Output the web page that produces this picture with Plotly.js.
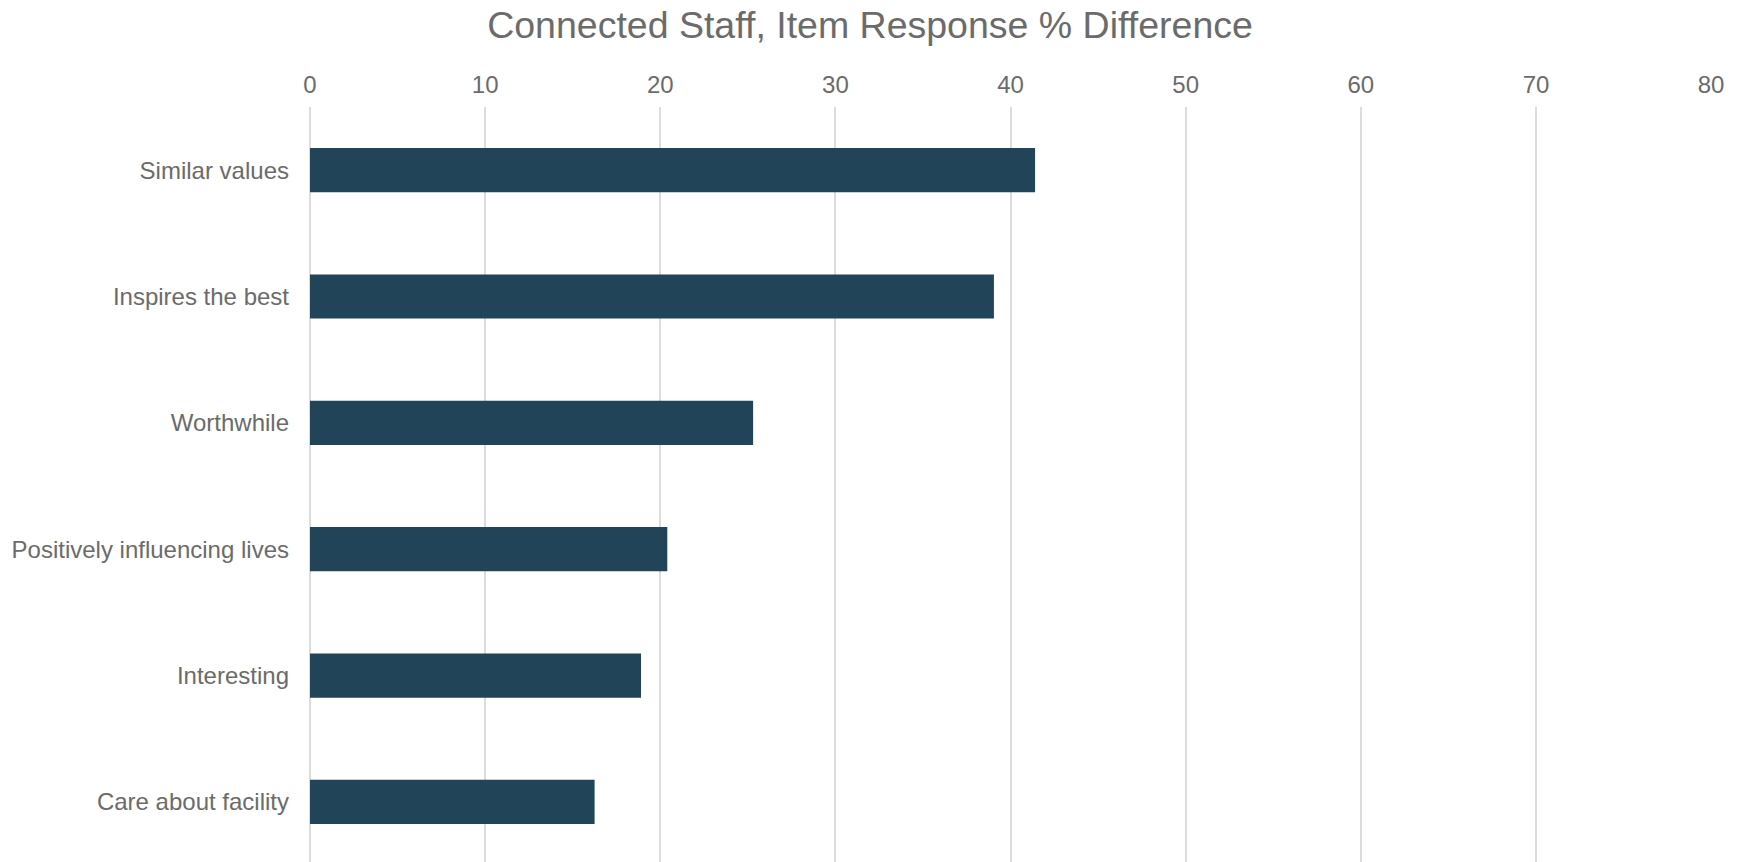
<!DOCTYPE html>
<html>
<head>
<meta charset="utf-8">
<script src="https://cdn.plot.ly/plotly-3.0.1.min.js"></script>
<style>
  html, body { margin: 0; padding: 0; overflow: hidden; background: #ffffff; }
  #chart { width: 1740px; height: 862px; }
</style>
</head>
<body>
<div id="chart"></div>
<script>
const categories = [
  "Similar values",
  "Inspires the best",
  "Worthwhile",
  "Positively influencing lives",
  "Interesting",
  "Care about facility"
];
const values = [41.4, 39.05, 25.3, 20.4, 18.9, 16.25];
const tickValues = [0, 10, 20, 30, 40, 50, 60, 70, 80];
const tickLabels = ["0", "10", "20", "30", "40", "50", "60", "70", "80"];

const fontFamily = "Liberation Sans, Arial, sans-serif";
const textColor = "#6b6b6b";

const trace = {
  type: "bar",
  orientation: "h",
  x: values,
  y: categories,
  marker: { color: "#224459" },
  hoverinfo: "x+y"
};

const layout = {
  width: 1740,
  height: 862,
  margin: { l: 310, r: 28, t: 107, b: 0, pad: 0 },
  paper_bgcolor: "#ffffff",
  plot_bgcolor: "#ffffff",
  bargap: 0.65,
  showlegend: false,
  font: { family: fontFamily, color: textColor, size: 24 },
  title: {
    text: "Connected Staff, Item Response % Difference",
    font: { family: fontFamily, size: 37.5, color: textColor },
    xref: "container",
    x: 0.5,
    xanchor: "center",
    yref: "container",
    y: 0.971,
    yanchor: "middle"
  },
  xaxis: {
    side: "top",
    range: [0, 80.05],
    tickmode: "array",
    tickvals: tickValues,
    ticktext: tickLabels,
    showgrid: true,
    gridcolor: "#dcdcdc",
    gridwidth: 2,
    zeroline: true,
    zerolinecolor: "#dcdcdc",
    zerolinewidth: 2,
    showline: false,
    ticks: "",
    ticklabelstandoff: 8,
    tickfont: { family: fontFamily, size: 24, color: textColor },
    fixedrange: true
  },
  yaxis: {
    type: "category",
    categoryorder: "array",
    categoryarray: categories,
    range: [5.476, -0.5],
    showgrid: false,
    zeroline: false,
    showline: false,
    ticks: "",
    ticklabelstandoff: 20,
    tickfont: { family: fontFamily, size: 24, color: textColor },
    fixedrange: true
  }
};

Plotly.newPlot("chart", [trace], layout, { displayModeBar: false, staticPlot: true });
</script>
</body>
</html>
